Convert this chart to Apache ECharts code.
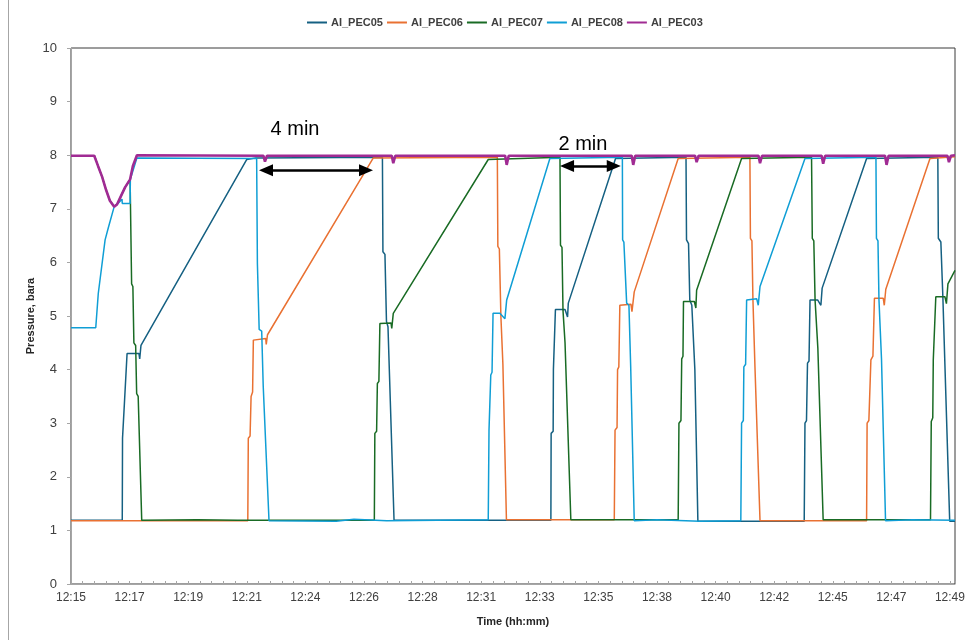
<!DOCTYPE html>
<html>
<head>
<meta charset="utf-8">
<script src="https://cdn.jsdelivr.net/npm/echarts@6/dist/echarts.min.js"></script>
<style>
  html, body { margin: 0; padding: 0; background: #fff; }
  #chart { width: 972px; height: 640px; }
</style>
</head>
<body>
<div id="chart"></div>
<script>
// Time axis: minutes after 12:15, one labelled tick every 2.32 min
const tickStep = 2.32;
const timeLabels = ['12:15','12:17','12:19','12:21','12:24','12:26','12:28','12:31',
                    '12:33','12:35','12:38','12:40','12:42','12:45','12:47','12:49'];

const seriesNames = ['AI_PEC05','AI_PEC06','AI_PEC07','AI_PEC08','AI_PEC03'];
const seriesColors = ['#156082','#e97132','#196b24','#0f9ed5','#a02b93'];

// [minutes after 12:15, pressure in bara]
const pec05 = [
  [0,1.19],[2.03,1.19],[2.04,2.72],[2.10,2.75],[2.12,3.42],[2.18,3.45],[2.22,4.30],[2.69,4.30],
  [2.72,4.20],[2.77,4.45],[6.96,7.92],[7.32,7.95],[12.33,7.96],[12.35,6.20],[12.43,6.15],
  [12.49,4.90],[12.55,4.80],[12.79,1.19],[19.00,1.19],[19.01,2.81],[19.09,2.85],[19.10,4.00],
  [19.16,4.02],[19.18,5.12],[19.56,5.12],[19.66,4.98],[19.69,5.24],[21.56,7.94],[24.35,7.96],
  [24.37,6.42],[24.45,6.35],[24.50,5.30],[24.58,5.20],[24.70,4.00],[24.82,1.17],[29.03,1.17],
  [29.06,3.00],[29.12,3.05],[29.16,4.12],[29.22,4.16],[29.26,5.30],[29.56,5.30],[29.69,5.20],
  [29.74,5.52],[31.50,7.94],[34.32,7.96],[34.34,6.45],[34.44,6.38],[34.52,5.35],[34.60,4.10],
  [34.79,1.17],[35.00,1.17]
];
const pec06 = [
  [0,1.18],[7.00,1.18],[7.02,2.72],[7.09,2.76],[7.13,3.50],[7.19,3.58],[7.22,4.55],[7.71,4.58],
  [7.73,4.47],[7.78,4.65],[11.97,7.95],[16.88,7.96],[16.90,6.30],[16.96,6.25],[17.02,5.00],
  [17.10,4.10],[17.24,1.20],[21.51,1.20],[21.54,2.87],[21.62,2.92],[21.64,4.00],[21.69,4.05],
  [21.73,5.20],[22.17,5.22],[22.21,5.08],[22.30,5.45],[24.04,7.94],[26.88,7.96],[26.90,6.45],
  [26.96,6.40],[27.00,5.30],[27.08,4.05],[27.28,1.18],[31.50,1.18],[31.52,3.00],[31.59,3.05],
  [31.67,4.18],[31.75,4.25],[31.81,5.33],[32.16,5.33],[32.20,5.20],[32.26,5.50],[34.01,7.94],
  [35.00,7.97]
];
const pec07 = [
  [0,7.99],[0.93,7.99],[1.07,7.80],[1.23,7.60],[1.39,7.35],[1.54,7.15],[1.71,7.05],[1.82,7.08],
  [1.94,7.20],[2.14,7.40],[2.34,7.55],[2.40,5.60],[2.45,5.55],[2.49,4.50],[2.56,4.45],[2.60,3.55],
  [2.66,3.50],[2.80,1.19],[5.00,1.20],[6.60,1.19],[12.01,1.19],[12.03,2.81],[12.10,2.85],
  [12.13,3.74],[12.19,3.78],[12.23,4.86],[12.67,4.87],[12.70,4.77],[12.76,5.05],[16.52,7.92],
  [19.36,7.96],[19.38,6.32],[19.44,6.28],[19.48,5.10],[19.56,4.50],[19.79,1.20],[24.04,1.20],
  [24.07,3.00],[24.15,3.05],[24.18,4.20],[24.23,4.25],[24.25,5.27],[24.68,5.27],[24.74,5.15],
  [24.77,5.48],[26.55,7.94],[29.32,7.96],[29.35,6.45],[29.41,6.40],[29.46,5.30],[29.57,4.40],
  [29.78,1.20],[34.03,1.20],[34.06,3.03],[34.12,3.10],[34.14,4.18],[34.20,4.20],[34.24,5.36],
  [34.60,5.36],[34.66,5.23],[34.72,5.60],[35.00,5.85]
];
const pec08 = [
  [0,4.78],[0.98,4.78],[1.08,5.42],[1.15,5.45],[1.35,6.42],[1.48,6.65],[1.71,7.04],[1.86,7.10],
  [2.02,7.18],[2.03,7.10],[2.34,7.10],[2.35,7.55],[2.61,7.95],[7.35,7.94],[7.38,5.98],[7.44,5.95],
  [7.45,4.75],[7.55,4.72],[7.61,3.70],[7.68,3.68],[7.84,1.18],[10.50,1.17],[11.20,1.21],
  [12.50,1.18],[16.52,1.20],[16.55,2.87],[16.59,2.90],[16.62,3.90],[16.67,3.95],[16.71,5.05],
  [16.98,5.05],[17.18,4.95],[17.25,5.30],[18.96,7.94],[21.83,7.96],[21.84,6.42],[21.89,6.38],
  [22.00,5.24],[22.09,5.20],[22.16,4.05],[22.30,1.18],[23.20,1.20],[24.90,1.17],[26.52,1.18],
  [26.55,3.00],[26.62,3.05],[26.64,4.05],[26.71,4.10],[26.75,5.30],[27.15,5.32],[27.21,5.20],
  [27.28,5.55],[29.06,7.94],[31.87,7.96],[31.89,6.45],[31.95,6.40],[31.99,5.30],[32.09,4.20],
  [32.25,1.18],[33.30,1.20],[35.00,1.19]
];
const pec03 = [
  [0,7.99],[0.92,7.99],[1.07,7.80],[1.23,7.60],[1.39,7.35],[1.54,7.15],[1.71,7.04],[1.82,7.08],
  [1.94,7.20],[2.14,7.40],[2.34,7.55],[2.45,7.80],[2.61,8.00],
  [7.62,7.99],[7.68,7.88],[7.76,7.99],
  [12.70,7.99],[12.76,7.85],[12.84,7.99],
  [17.19,7.99],[17.25,7.82],[17.33,7.99],
  [22.20,7.99],[22.26,7.82],[22.34,7.99],
  [24.71,7.99],[24.77,7.87],[24.85,7.99],
  [27.22,7.99],[27.28,7.85],[27.36,7.99],
  [29.72,7.99],[29.78,7.84],[29.86,7.99],
  [32.23,7.99],[32.29,7.82],[32.37,7.99],
  [34.70,7.99],[34.76,7.87],[34.84,7.99],
  [35.00,8.00]
];
const seriesData = [pec05, pec06, pec07, pec08, pec03];

// Duration annotations: arrow span (minutes, arrowhead centres) at a pressure level, label above
const spanArrows = [
  { from: 7.72, to: 11.68, level: 7.72 },
  { from: 19.64, to: 21.49, level: 7.80 }
];
const spanTexts = [
  { text: '4 min', t: 8.87, level: 8.48 },
  { text: '2 min', t: 20.27, level: 8.20 }
];

const chart = echarts.init(document.getElementById('chart'), null, { renderer: 'canvas' });

const lineSeries = seriesNames.map((name, i) => ({
  name: name,
  type: 'line',
  data: seriesData[i],
  showSymbol: false,
  symbol: 'none',
  animation: false,
  lineStyle: { color: seriesColors[i], width: name === 'AI_PEC03' ? 2.6 : 1.5 },
  itemStyle: { color: seriesColors[i] },
  z: 2 + i
}));

lineSeries.push({
  name: 'annotations',
  type: 'line',
  data: [],
  animation: false,
  z: 20,
  markLine: {
    silent: true,
    animation: false,
    symbol: ['triangle', 'triangle'],
    symbolSize: [12, 14],
    lineStyle: { color: '#000', width: 2.5, type: 'solid' },
    label: { show: false },
    data: spanArrows.map(a => [
      { coord: [a.from, a.level] },
      { coord: [a.to, a.level] }
    ])
  },
  markPoint: {
    silent: true,
    animation: false,
    symbol: 'circle',
    symbolSize: 1,
    itemStyle: { color: 'rgba(0,0,0,0)' },
    label: {
      show: true,
      position: 'inside',
      color: '#000',
      fontSize: 20,
      fontFamily: 'Liberation Sans, Arial, sans-serif',
      formatter: p => p.name
    },
    data: spanTexts.map(s => ({ name: s.text, coord: [s.t, s.level] }))
  }
});

chart.setOption({
  animation: false,
  backgroundColor: '#ffffff',
  textStyle: { fontFamily: 'Liberation Sans, Arial, sans-serif' },
  graphic: [
    { type: 'line', shape: { x1: 8.5, y1: 0, x2: 8.5, y2: 640 }, style: { stroke: '#a6a6a6', lineWidth: 1 } }
  ],
  legend: {
    data: seriesNames,
    top: 12,
    left: 302,
    icon: 'rect',
    itemWidth: 20,
    itemHeight: 2,
    itemGap: 4,
    textStyle: { fontSize: 11, fontWeight: 'bold', color: '#404040', padding: [0, 0, 0, -1] }
  },
  grid: {
    left: 71, right: 17, top: 48, bottom: 56,
    show: true, borderColor: '#3a3a3a', borderWidth: 1, backgroundColor: 'transparent'
  },
  xAxis: {
    type: 'value',
    min: 0,
    max: 35.0,
    interval: tickStep,
    name: 'Time (hh:mm)',
    nameLocation: 'middle',
    nameGap: 32,
    nameTextStyle: { fontSize: 11, fontWeight: 'bold', color: '#262626' },
    axisLine: { show: true, lineStyle: { color: '#a6a6a6' } },
    axisTick: { show: true, inside: true, length: 3, lineStyle: { color: '#a6a6a6' } },
    minorTick: { show: true, splitNumber: 5, length: 3, lineStyle: { color: '#a6a6a6' } },
    splitLine: { show: false },
    axisLabel: {
      fontSize: 12, color: '#404040', margin: 8, showMaxLabel: false,
      formatter: v => {
        const idx = Math.round(v / tickStep);
        if (Math.abs(v - idx * tickStep) > 0.01) return '';
        return timeLabels[idx] || '';
      }
    }
  },
  yAxis: {
    type: 'value',
    min: 0,
    max: 10,
    interval: 1,
    name: 'Pressure, bara',
    nameLocation: 'middle',
    nameGap: 35,
    nameMoveOverlap: false,
    nameRotate: 90,
    nameTextStyle: { fontSize: 11, fontWeight: 'bold', color: '#262626' },
    axisLine: { show: true, lineStyle: { color: '#a6a6a6' } },
    axisTick: { show: true, inside: false, length: 4, lineStyle: { color: '#a6a6a6' } },
    splitLine: { show: false },
    axisLabel: { fontSize: 13, color: '#404040', margin: 14 }
  },
  series: lineSeries
});
</script>
</body>
</html>
